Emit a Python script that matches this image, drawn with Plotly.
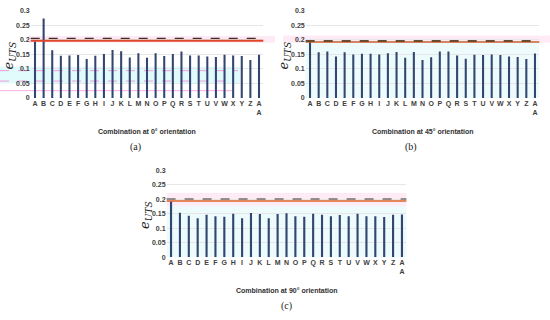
import plotly.graph_objects as go

categories = ["A","B","C","D","E","F","G","H","I","J","K","L","M","N","O","P","Q","R","S","T","U","V","W","X","Y","Z","AA"]
tick_labels = ["<b>" + (c if len(c) == 1 else "A<br>A") + "</b>" for c in categories]

e_uts_0 = [0.195,0.274,0.164,0.145,0.146,0.148,0.134,0.145,0.151,0.165,0.161,0.139,0.154,0.138,0.154,0.144,0.151,0.160,0.146,0.146,0.143,0.141,0.149,0.146,0.144,0.131,0.149]
e_uts_45 = [0.195,0.157,0.160,0.143,0.157,0.150,0.152,0.152,0.150,0.154,0.158,0.138,0.158,0.131,0.140,0.160,0.160,0.146,0.135,0.149,0.148,0.150,0.148,0.143,0.141,0.134,0.153]
e_uts_90 = [0.193,0.154,0.143,0.135,0.147,0.142,0.140,0.150,0.135,0.153,0.149,0.135,0.149,0.152,0.142,0.140,0.150,0.147,0.142,0.146,0.142,0.150,0.142,0.142,0.139,0.147,0.148]

y_ticks = [0, 0.05, 0.1, 0.15, 0.2, 0.25, 0.3]
y_tick_text = ["0", "0.05", "0.1", "0.15", "0.2", "0.25", "0.3"]

titles = ["Combination at 0° orientation", "Combination at 45° orientation", "Combination at 90° orientation"]
panel_labels = ["(a)", "(b)", "(c)"]

W, H = 550, 320
def px(x): return x / W
def py(y): return 1 - y / H

# panel geometry (pixels)
panels = [
    dict(x0=30.7, x1=263.3, ytop=7, ybot=96),
    dict(x0=305.7, x1=539.3, ytop=7, ybot=96),
    dict(x0=166.6, x1=406.4, ytop=170, ybot=259),
]
series = [e_uts_0, e_uts_45, e_uts_90]

fig = go.Figure()
bar_color = "#33466F"
tick_font = dict(family="Liberation Sans, Arial", size=7, color="#404040")

layout = dict(width=W, height=H, margin=dict(l=0, r=0, t=0, b=0),
              paper_bgcolor="white", plot_bgcolor="rgba(0,0,0,0)", showlegend=False)
annotations = []
shapes = []

for i, (p, vals) in enumerate(zip(panels, series)):
    n = "" if i == 0 else str(i + 1)
    fig.add_trace(go.Bar(x=categories, y=vals, marker=dict(color=bar_color, line=dict(width=0)),
                         xaxis="x" + n, yaxis="y" + n, width=0.24))
    layout["xaxis" + n] = dict(domain=[px(p["x0"]), px(p["x1"])], anchor="y" + n,
                               tickmode="array", tickvals=categories, ticktext=tick_labels,
                               tickfont=tick_font, showgrid=False, zeroline=False,
                               showline=False, ticks="", ticklen=2, tickangle=0,
                               range=[-0.5, 26.5])
    layout["yaxis" + n] = dict(domain=[py(p["ybot"]), py(p["ytop"])], anchor="x" + n,
                               range=[0, 0.3], tickmode="array", tickvals=y_ticks,
                               ticktext=["<b>" + t + "</b>" for t in y_tick_text], tickfont=tick_font,
                               showgrid=True, gridcolor="#E6E6E6", gridwidth=1,
                               zeroline=False, showline=False, ticks="", ticklen=3)
    cx = (p["x0"] + p["x1"]) / 2
    annotations.append(dict(text="<b>" + titles[i] + "</b>", x=px(cx), y=py(p["ybot"] + 34),
                            xref="paper", yref="paper", showarrow=False,
                            xanchor="center", yanchor="middle",
                            font=dict(family="Liberation Sans, Arial", size=7, color="#303030")))
    annotations.append(dict(text=panel_labels[i], x=px(cx - 12 if i < 2 else cx), y=py(p["ybot"] + 50),
                            xref="paper", yref="paper", showarrow=False,
                            xanchor="center", yanchor="middle",
                            font=dict(family="Liberation Serif, Times New Roman", size=10, color="#222")))
    annotations.append(dict(text="<i>e</i><sub><i>UTS</i></sub>", x=px(p["x0"] - 21),
                            y=py(p["ybot"] - 43), xref="paper", yref="paper", showarrow=False,
                            xanchor="center", yanchor="middle", textangle=-90,
                            font=dict(family="DejaVu Serif, Liberation Serif", size=13, color="#222")))

# decorative bands and reference lines
# panel (a)
shapes += [
    dict(type="rect", xref="paper", yref="y", x0=px(28), x1=px(275), y0=0.19, y1=0.213,
         fillcolor="rgba(255,120,190,0.16)", line=dict(width=0), layer="below"),
    dict(type="rect", xref="paper", yref="y", x0=px(0), x1=px(240), y0=0.05, y1=0.107,
         fillcolor="rgba(120,230,240,0.22)", line=dict(width=0), layer="below"),
    dict(type="line", xref="paper", yref="y", x0=px(0), x1=px(238), y0=0.094, y1=0.094,
         line=dict(color="rgba(255,90,200,0.6)", width=1, dash="dash"), layer="below"),
    dict(type="line", xref="paper", yref="y", x0=px(0), x1=px(233), y0=0.058, y1=0.058,
         line=dict(color="rgba(255,90,200,0.6)", width=1, dash="dash"), layer="below"),
    dict(type="line", xref="paper", yref="y", x0=px(0), x1=px(233), y0=0.025, y1=0.025,
         line=dict(color="rgba(255,90,200,0.5)", width=1), layer="below"),
    dict(type="line", xref="x domain", yref="y", x0=0, x1=1, y0=0.197, y1=0.197,
         line=dict(color="#E0452A", width=2)),
    dict(type="line", xref="x domain", yref="y", x0=0, x1=1, y0=0.205, y1=0.205,
         line=dict(color="#3B3026", width=1.2, dash="dash")),
]
# panel (b)
shapes += [
    dict(type="rect", xref="x2 domain", yref="y2", x0=0, x1=1, y0=0, y1=0.19,
         fillcolor="rgba(170,235,245,0.2)", line=dict(width=0), layer="below"),
    dict(type="rect", xref="paper", yref="y2", x0=px(283), x1=px(550), y0=0.19, y1=0.215,
         fillcolor="rgba(255,120,190,0.15)", line=dict(width=0), layer="below"),
    dict(type="line", xref="x2 domain", yref="y2", x0=0, x1=1, y0=0.193, y1=0.193,
         line=dict(color="#C9602E", width=1.5)),
    dict(type="line", xref="x2 domain", yref="y2", x0=0, x1=1, y0=0.196, y1=0.196,
         line=dict(color="#6B4A2E", width=2, dash="dash")),
]
# panel (c)
shapes += [
    dict(type="rect", xref="x3 domain", yref="y3", x0=0, x1=1, y0=0, y1=0.178,
         fillcolor="rgba(170,235,245,0.2)", line=dict(width=0), layer="below"),
    dict(type="rect", xref="x3 domain", yref="y3", x0=0, x1=1, y0=0.178, y1=0.222,
         fillcolor="rgba(255,120,190,0.15)", line=dict(width=0), layer="below"),
    dict(type="line", xref="x3 domain", yref="y3", x0=0, x1=1, y0=0.194, y1=0.194,
         line=dict(color="#D9652A", width=1.5)),
    dict(type="line", xref="x3 domain", yref="y3", x0=0, x1=1, y0=0.201, y1=0.201,
         line=dict(color="#3B3026", width=1.2, dash="dash")),
]

layout["annotations"] = annotations
layout["shapes"] = shapes
fig.update_layout(**layout)
fig.write_html("out.html", config={"displayModeBar": False},
               post_script="document.body.style.margin='0';")
